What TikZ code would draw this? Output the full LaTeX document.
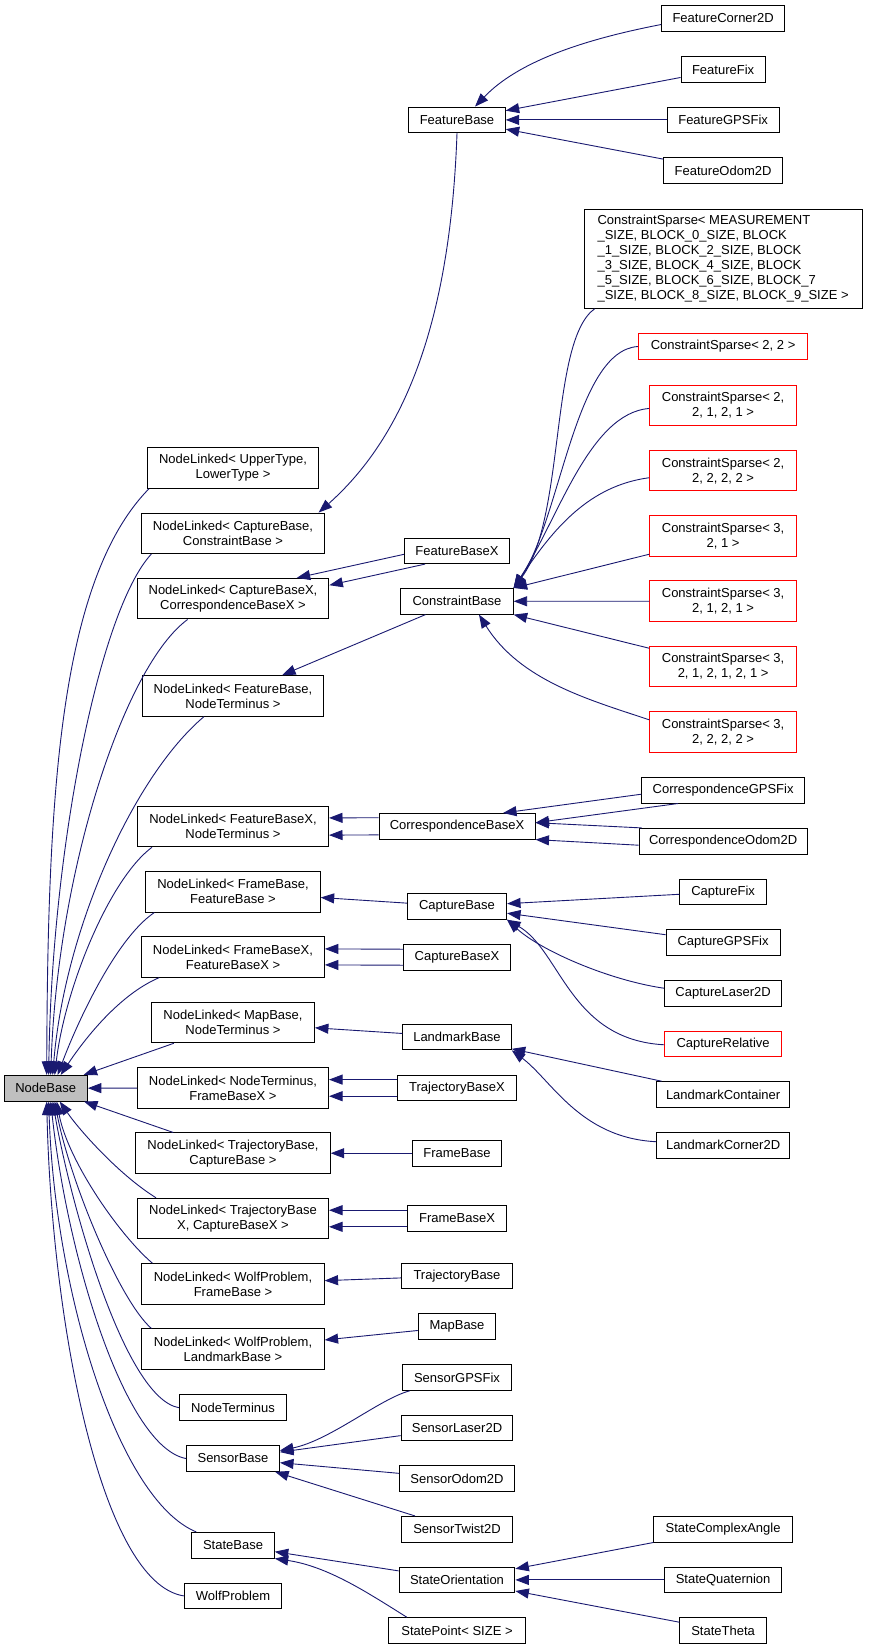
\documentclass[tikz,border=0pt]{standalone}
\usepackage{fontspec}
\setmainfont{Liberation Sans}
\usetikzlibrary{arrows.meta}
\definecolor{cNavy}{RGB}{25,25,112}
\definecolor{cGray}{RGB}{191,191,191}
\definecolor{cRed}{RGB}{255,0,0}
\newcommand{\dxfont}{\fontsize{13}{15}\selectfont}
\tikzset{
  classbox/.style={rectangle,draw=black,line width=1pt,fill=white,
                   align=center,font=\dxfont,inner xsep=2pt,inner ysep=1pt,
                   minimum height=25.6pt},
  twobox/.style={classbox,minimum height=40.5pt},
  basebox/.style={classbox,fill=cGray},
  redbox/.style={classbox,draw=cRed},
  redtwobox/.style={twobox,draw=cRed},
  inharr/.style={->,>={Triangle[length=13.5pt,width=10pt]},line width=0.9pt,color=cNavy}
}
\begin{document}
\begin{tikzpicture}[x=1pt,y=-1pt]
  \useasboundingbox (0,0) rectangle (869,1649);

  % root
  \node[basebox,minimum width=83.3pt] (nodeBase) at (45.7,1088.2) {NodeBase};

  % NodeLinked column
  \node[twobox,minimum width=171.1pt] (nlUpper) at (233,468) {NodeLinked< UpperType,\\LowerType >};
  \node[twobox,minimum width=182.3pt] (nlCapCon) at (233,533.3) {NodeLinked< CaptureBase,\\ConstraintBase >};
  \node[twobox,minimum width=191.7pt] (nlCapXCorrX) at (233,598.7) {NodeLinked< CaptureBaseX,\\CorrespondenceBaseX >};
  \node[twobox,minimum width=181.1pt] (nlFeatTerm) at (233,695.9) {NodeLinked< FeatureBase,\\NodeTerminus >};
  \node[twobox,minimum width=191pt] (nlFeatXTerm) at (233,826.5) {NodeLinked< FeatureBaseX,\\NodeTerminus >};
  \node[twobox,minimum width=174.4pt] (nlFrameFeat) at (233,891.8) {NodeLinked< FrameBase,\\FeatureBase >};
  \node[twobox,minimum width=182.7pt] (nlFrameXFeatX) at (233,956.9) {NodeLinked< FrameBaseX,\\FeatureBaseX >};
  \node[twobox,minimum width=162.8pt] (nlMapTerm) at (233,1022.5) {NodeLinked< MapBase,\\NodeTerminus >};
  \node[twobox,minimum width=191pt] (nlTermFrameX) at (233,1087.9) {NodeLinked< NodeTerminus,\\FrameBaseX >};
  \node[twobox,minimum width=194.4pt] (nlTrajCap) at (233,1153.2) {NodeLinked< TrajectoryBase,\\CaptureBase >};
  \node[twobox,minimum width=191pt] (nlTrajXCapX) at (233,1218.5) {NodeLinked< TrajectoryBase\\X, CaptureBaseX >};
  \node[twobox,minimum width=182.2pt] (nlWolfFrame) at (233,1283.9) {NodeLinked< WolfProblem,\\FrameBase >};
  \node[twobox,minimum width=182.2pt] (nlWolfLand) at (233,1349.2) {NodeLinked< WolfProblem,\\LandmarkBase >};
  \node[classbox,minimum width=107.4pt] (nodeTerm) at (233,1407.7) {NodeTerminus};
  \node[classbox,minimum width=93pt] (sensorBase) at (233,1458.5) {SensorBase};
  \node[classbox,minimum width=82.5pt] (stateBase) at (233,1545.2) {StateBase};
  \node[classbox,minimum width=97.5pt] (wolfProb) at (233,1595.9) {WolfProblem};

  % middle column
  \node[classbox,minimum width=96.4pt] (featBase) at (457,119.9) {FeatureBase};
  \node[classbox,minimum width=105pt] (featBaseX) at (457,550.8) {FeatureBaseX};
  \node[classbox,minimum width=112.3pt] (consBase) at (457,601.3) {ConstraintBase};
  \node[classbox,minimum width=156pt] (corrBaseX) at (457,826.3) {CorrespondenceBaseX};
  \node[classbox,minimum width=99.1pt] (capBase) at (457,906.4) {CaptureBase};
  \node[classbox,minimum width=106.3pt] (capBaseX) at (457,957.2) {CaptureBaseX};
  \node[classbox,minimum width=108.5pt] (lmBase) at (457,1037) {LandmarkBase};
  \node[classbox,minimum width=119pt] (trajBaseX) at (457,1087.9) {TrajectoryBaseX};
  \node[classbox,minimum width=89.1pt] (frameBase) at (457,1153.2) {FrameBase};
  \node[classbox,minimum width=99.1pt] (frameBaseX) at (457,1218.5) {FrameBaseX};
  \node[classbox,minimum width=110.7pt] (trajBase) at (457,1275.9) {TrajectoryBase};
  \node[classbox,minimum width=77.5pt] (mapBase) at (457,1326.5) {MapBase};
  \node[classbox,minimum width=109.6pt] (sensGps) at (457,1377.5) {SensorGPSFix};
  \node[classbox,minimum width=111.8pt] (sensLaser) at (457,1427.9) {SensorLaser2D};
  \node[classbox,minimum width=114.6pt] (sensOdom) at (457,1478.5) {SensorOdom2D};
  \node[classbox,minimum width=111.8pt] (sensTwist) at (457,1529.2) {SensorTwist2D};
  \node[classbox,minimum width=115.7pt] (stateOri) at (457,1579.9) {StateOrientation};
  \node[classbox,minimum width=137.3pt] (statePt) at (457,1630.5) {StatePoint< SIZE >};

  % right column
  \node[classbox,minimum width=122.9pt] (featCorner) at (723.1,18.5) {FeatureCorner2D};
  \node[classbox,minimum width=84.1pt] (featFix) at (723.1,69.4) {FeatureFix};
  \node[classbox,minimum width=111.9pt] (featGps) at (723.1,119.9) {FeatureGPSFix};
  \node[classbox,minimum width=118.5pt] (featOdom) at (723.1,170.5) {FeatureOdom2D};
  \node[classbox,align=left,minimum width=278pt,minimum height=99pt] (csMeas) at (723.1,258.8)
      {ConstraintSparse< MEASUREMENT\\\_SIZE, BLOCK\_0\_SIZE, BLOCK\\\_1\_SIZE, BLOCK\_2\_SIZE, BLOCK\\\_3\_SIZE, BLOCK\_4\_SIZE, BLOCK\\\_5\_SIZE, BLOCK\_6\_SIZE, BLOCK\_7\\\_SIZE, BLOCK\_8\_SIZE, BLOCK\_9\_SIZE >};
  \node[redbox,minimum width=169.4pt] (cs22) at (723.1,346.5) {ConstraintSparse< 2, 2 >};
  \node[redtwobox,minimum width=146.7pt] (cs22121) at (723.1,405.4) {ConstraintSparse< 2,\\2, 1, 2, 1 >};
  \node[redtwobox,minimum width=146.7pt] (cs22222) at (723.1,470.7) {ConstraintSparse< 2,\\2, 2, 2, 2 >};
  \node[redtwobox,minimum width=146.7pt] (cs321) at (723.1,535.9) {ConstraintSparse< 3,\\2, 1 >};
  \node[redtwobox,minimum width=146.7pt] (cs32121) at (723.1,601.2) {ConstraintSparse< 3,\\2, 1, 2, 1 >};
  \node[redtwobox,minimum width=146.7pt] (cs3212121) at (723.1,666.5) {ConstraintSparse< 3,\\2, 1, 2, 1, 2, 1 >};
  \node[redtwobox,minimum width=146.7pt] (cs32222) at (723.1,731.8) {ConstraintSparse< 3,\\2, 2, 2, 2 >};
  \node[classbox,minimum width=162.6pt] (corrGps) at (723.1,790.2) {CorrespondenceGPSFix};
  \node[classbox,minimum width=168pt] (corrOdom) at (723.1,841.2) {CorrespondenceOdom2D};
  \node[classbox,minimum width=86.4pt] (capFix) at (723.1,891.9) {CaptureFix};
  \node[classbox,minimum width=114.1pt] (capGps) at (723.1,942.5) {CaptureGPSFix};
  \node[classbox,minimum width=117.4pt] (capLaser) at (723.1,993.2) {CaptureLaser2D};
  \node[redbox,minimum width=116.3pt] (capRel) at (723.1,1043.8) {CaptureRelative};
  \node[classbox,minimum width=133.4pt] (lmCont) at (723.1,1094.5) {LandmarkContainer};
  \node[classbox,minimum width=133.4pt] (lmCorner) at (723.1,1145.2) {LandmarkCorner2D};
  \node[classbox,minimum width=139pt] (stateCplx) at (723.1,1529.2) {StateComplexAngle};
  \node[classbox,minimum width=116.3pt] (stateQuat) at (723.1,1579.9) {StateQuaternion};
  \node[classbox,minimum width=86.4pt] (stateTheta) at (723.1,1630.5) {StateTheta};

  % into NodeBase, from above
  \draw[inharr] ([xshift=2pt]nlUpper.south west) .. controls +(-90,92) and +(1,-276) .. ([xshift=1pt]nodeBase.north);
  \draw[inharr] ([xshift=10pt]nlCapCon.south west) .. controls +(-52,56) and +(3,-226) .. ([xshift=3pt]nodeBase.north);
  \draw[inharr] ([xshift=51pt]nlCapXCorrX.south west) .. controls +(-63,46) and +(7,-206) .. ([xshift=5pt]nodeBase.north);
  \draw[inharr] ([xshift=62pt]nlFeatTerm.south west) .. controls +(-70,59) and +(12,-146) .. ([xshift=7pt]nodeBase.north);
  \draw[inharr] ([xshift=15pt]nlFeatXTerm.south west) .. controls +(-43,32) and +(10,-86) .. ([xshift=9pt]nodeBase.north);
  \draw[inharr] ([xshift=9pt]nlFrameFeat.south west) .. controls +(-40,27) and +(17,-46) .. ([xshift=12pt]nodeBase.north);
  \draw[inharr] ([xshift=18pt]nlFrameXFeatX.south west) .. controls +(-40,17) and +(24,-36) .. ([xshift=15pt]nodeBase.north);
  \draw[inharr] (nlMapTerm) -- (nodeBase);
  \draw[inharr] (nlTermFrameX) -- (nodeBase);
  \draw[inharr] (nlTrajCap) -- (nodeBase);
  % into NodeBase, from below
  \draw[inharr] ([xshift=19pt]nlTrajXCapX.north west) .. controls +(-37,-23) and +(20,29) .. ([xshift=14pt]nodeBase.south);
  \draw[inharr] ([xshift=11pt]nlWolfFrame.north west) .. controls +(-33,-28) and +(11,59) .. ([xshift=11pt]nodeBase.south);
  \draw[inharr] ([xshift=10pt]nlWolfLand.north west) .. controls +(-32,-28) and +(15,79) .. ([xshift=9pt]nodeBase.south);
  \draw[inharr] (nodeTerm.west) .. controls +(-55,-10) and +(17,99) .. ([xshift=7pt]nodeBase.south);
  \draw[inharr] (sensorBase.west) .. controls +(-60,-11) and +(17,159) .. ([xshift=5pt]nodeBase.south);
  \draw[inharr] ([xshift=5pt]stateBase.north west) .. controls +(-78,-32) and +(6,190) .. ([xshift=3pt]nodeBase.south);
  \draw[inharr] (wolfProb.west) .. controls +(-83,-13) and +(5,220) .. ([xshift=1pt]nodeBase.south);

  % features
  \draw[inharr] ([yshift=-6pt]featCorner.west) .. controls +(-72,14) and +(45,-47) .. ([xshift=18pt]featBase.north);
  \draw[inharr] (featFix) -- (featBase);
  \draw[inharr] (featGps) -- (featBase);
  \draw[inharr] (featOdom) -- (featBase);
  \draw[inharr] (featBase.south) .. controls +(-7,197) and +(82,-73) .. ([xshift=-6pt]nlCapCon.north east);
  \draw[inharr] ([yshift=-3.5pt]featBaseX.west) -- ([xshift=63.7pt]nlCapXCorrX.north);
  \draw[inharr] ([xshift=-32pt]featBaseX.south) -- ([yshift=13.5pt]nlCapXCorrX.east);

  % constraints
  \draw[inharr] ([xshift=11pt]csMeas.south west) .. controls +(-45,32) and +(52,-69) .. (consBase.north east);
  \draw[inharr] (cs22.west) .. controls +(-63,4) and +(47,-69) .. (consBase.north east);
  \draw[inharr] ([yshift=-3pt]cs22121.west) .. controls +(-60,5) and +(45,-70) .. (consBase.north east);
  \draw[inharr] ([yshift=-7pt]cs22222.west) .. controls +(-60,8) and +(40,-60) .. (consBase.north east);
  \draw[inharr] (cs321) -- (consBase.north east);
  \draw[inharr] (cs32121) -- (consBase);
  \draw[inharr] (cs3212121) -- (consBase.south east);
  \draw[inharr] ([yshift=12pt]cs32222.west) .. controls +(-60,-20) and +(41,66) .. ([xshift=22pt]consBase.south);
  \draw[inharr] (consBase) -- (nlFeatTerm);

  % correspondences
  \draw[inharr] ([yshift=8.6pt]corrBaseX.west) -- ([yshift=8.6pt]nlFeatXTerm.east);
  \draw[inharr] ([yshift=-8.6pt]corrBaseX.west) -- ([yshift=-8.6pt]nlFeatXTerm.east);
  \draw[inharr] ([yshift=-4pt]corrGps.west) -- ([xshift=46pt]corrBaseX.north);
  \draw[inharr] ([xshift=-45pt]corrGps.south) -- ([yshift=3.6pt]corrBaseX.east);
  \draw[inharr] ([xshift=3pt]corrOdom.north west) -- ([yshift=3.6pt]corrBaseX.east);
  \draw[inharr] ([yshift=-4pt]corrOdom.west) -- (corrBaseX.south east);

  % captures
  \draw[inharr] (capBase) -- (nlFrameFeat);
  \draw[inharr] (capFix) -- (capBase);
  \draw[inharr] (capGps) -- (capBase);
  \draw[inharr] ([yshift=5pt]capLaser.west) .. controls +(-55,-8) and +(34,31) .. (capBase.south east);
  \draw[inharr] ([yshift=-1pt]capRel.west) .. controls +(-95,-5) and +(54,31) .. (capBase.south east);
  \draw[inharr] ([yshift=8pt]capBaseX.west) -- ([yshift=8pt]nlFrameXFeatX.east);
  \draw[inharr] ([yshift=-8pt]capBaseX.west) -- ([yshift=-8pt]nlFrameXFeatX.east);

  % landmarks, frames, trajectories, map
  \draw[inharr] (lmBase) -- (nlMapTerm);
  \draw[inharr] (lmCont) -- (lmBase);
  \draw[inharr] ([yshift=3.5pt]lmCorner.west) .. controls +(-76,-4) and +(40,30) .. (lmBase.south east);
  \draw[inharr] ([yshift=8.3pt]trajBaseX.west) -- ([yshift=8.3pt]nlTermFrameX.east);
  \draw[inharr] ([yshift=-8.3pt]trajBaseX.west) -- ([yshift=-8.3pt]nlTermFrameX.east);
  \draw[inharr] (frameBase) -- (nlTrajCap);
  \draw[inharr] ([yshift=8.3pt]frameBaseX.west) -- ([yshift=8.3pt]nlTrajXCapX.east);
  \draw[inharr] ([yshift=-8.3pt]frameBaseX.west) -- ([yshift=-8.3pt]nlTrajXCapX.east);
  \draw[inharr] (trajBase) -- (nlWolfFrame);
  \draw[inharr] (mapBase) -- (nlWolfLand);

  % sensors
  \draw[inharr] ([xshift=8pt]sensGps.south west) .. controls +(-30,8) and +(50,-10) .. ([yshift=8pt]sensorBase.east);
  \draw[inharr] (sensLaser) -- (sensorBase);
  \draw[inharr] (sensOdom) -- (sensorBase);
  \draw[inharr] (sensTwist) -- (sensorBase);

  % states
  \draw[inharr] (stateOri) -- (stateBase);
  \draw[inharr] ([xshift=19pt]statePt.north west) .. controls +(-37,-23) and +(54,8) .. (stateBase.south east);
  \draw[inharr] (stateCplx) -- (stateOri);
  \draw[inharr] (stateQuat) -- (stateOri);
  \draw[inharr] (stateTheta) -- (stateOri);
\end{tikzpicture}
\end{document}
